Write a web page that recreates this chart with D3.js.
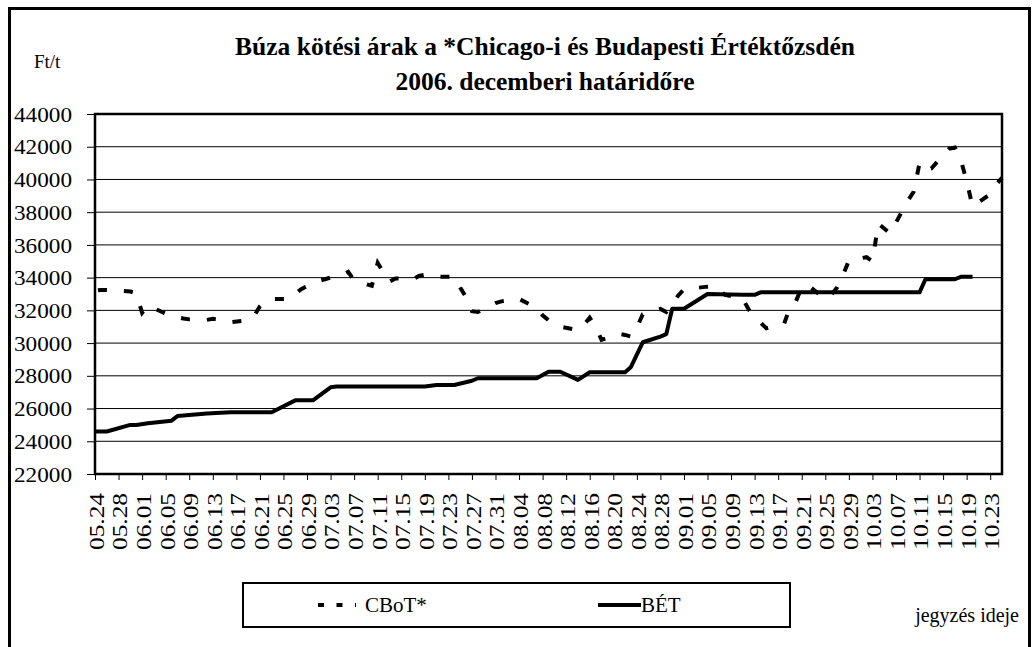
<!DOCTYPE html>
<html>
<head>
<meta charset="utf-8">
<script src="https://cdn.jsdelivr.net/npm/d3@7"></script>
<style>
  body { margin: 0; background: #fff; }
</style>
</head>
<body>
<div id="chart"></div>
<script>
// CBoT* (dashed) – Ft/t
const cbotDates = ["05.24","05.25","05.26","05.30","05.31","06.01","06.02","06.05","06.06","06.08","06.09",
  "06.12","06.13","06.14","06.15","06.16","06.19","06.20","06.21","06.22","06.23","06.26","06.27","06.28",
  "06.29","06.30","07.03","07.05","07.06","07.07","07.10","07.11","07.12","07.13","07.14","07.17","07.18",
  "07.19","07.20","07.21","07.24","07.25","07.26","07.27","07.28","07.31","08.01","08.02","08.03","08.04",
  "08.07","08.08","08.09","08.10","08.11","08.14","08.15","08.16","08.17","08.18","08.21","08.22","08.23",
  "08.24","08.25","08.28","08.29","08.30","08.31","09.01","09.05","09.06","09.07","09.08","09.11","09.12",
  "09.13","09.14","09.15","09.18","09.19","09.20","09.21","09.22","09.25","09.26","09.27","09.28","09.29",
  "10.02","10.03","10.04","10.05","10.06","10.09","10.10","10.11","10.12","10.13","10.16","10.17","10.18",
  "10.19","10.20","10.23","10.24","10.25"];
const cbotValues = [33200,33250,33250,33150,33050,31850,32300,31800,31650,31500,31450,
  31420,31480,31450,31350,31270,31400,31650,32250,32600,32700,32700,33000,33300,
  33480,33700,34000,34150,34350,33830,33500,34900,34300,33750,33950,33900,34100,
  34170,34100,34060,34060,33400,32800,31950,31900,32450,32550,32600,32650,32700,
  32150,31700,31400,31250,31000,30800,31100,31550,31000,30200,30560,30500,30400,
  30950,31750,32090,31900,32350,32900,33280,33450,33480,33200,32950,32700,32050,
  31650,31250,30900,31170,32200,32550,33400,33550,32680,32940,33400,34150,35050,
  35250,35000,37300,37000,36700,38700,39250,41000,40600,40670,41870,41950,41200,
  39900,38350,39100,39700,40100];

// BÉT (solid) – Ft/t
const betDates = ["05.24","05.26","05.30","05.31","06.02","06.06","06.07","06.12","06.16","06.23","06.27",
  "06.30","07.03","07.04","07.19","07.21","07.24","07.27","07.28","08.07","08.09","08.11","08.14","08.16",
  "08.22","08.23","08.25","08.28","08.29","08.30","09.01","09.05","09.11","09.13","09.14","10.11","10.12",
  "10.17","10.18","10.20"];
const betValues = [24600,24600,25000,25000,25100,25260,25540,25700,25770,25770,26500,
  26500,27300,27350,27350,27440,27440,27700,27850,27850,28250,28250,27750,28220,
  28220,28540,30050,30400,30550,32100,32100,33000,32950,32950,33100,33100,33900,
  33900,34050,34050];

const xTickLabels = ["05.24","05.28","06.01","06.05","06.09","06.13","06.17","06.21","06.25","06.29",
  "07.03","07.07","07.11","07.15","07.19","07.23","07.27","07.31","08.04","08.08","08.12","08.16",
  "08.20","08.24","08.28","09.01","09.05","09.09","09.13","09.17","09.21","09.25","09.29","10.03",
  "10.07","10.11","10.15","10.19","10.23"];
const yTicks = [22000,24000,26000,28000,30000,32000,34000,36000,38000,40000,42000,44000];
const xDomain = ["05.24","10.25"];

const seriesNames = ["CBoT*", "BÉT"];
const titleLines = ["Búza kötési árak a *Chicago-i és Budapesti Értéktőzsdén", "2006. decemberi határidőre"];

const FONT = "'Liberation Serif', 'Times New Roman', serif";
const parse = s => d3.utcParse("%Y.%m.%d")("2006." + s);

const W = 1032, H = 647;
const plot = { left: 95, right: 1002, top: 114, bottom: 474 };

const svg = d3.select("#chart").append("svg")
  .attr("width", W).attr("height", H)
  .style("font-family", FONT);

svg.append("rect").attr("width", W).attr("height", H).attr("fill", "#fff");

// outer frame
svg.append("rect")
  .attr("x", 9.5).attr("y", 8.5)
  .attr("width", 1020).attr("height", 700)
  .attr("fill", "none").attr("stroke", "#000").attr("stroke-width", 3);

const x = d3.scaleUtc()
  .domain(xDomain.map(parse))
  .range([plot.left, plot.right]);

const y = d3.scaleLinear()
  .domain([22000, 44000])
  .range([plot.bottom, plot.top]);

// gridlines
svg.append("g")
  .selectAll("line")
  .data(yTicks.slice(1, -1))
  .join("line")
    .attr("x1", plot.left).attr("x2", plot.right)
    .attr("y1", d => y(d)).attr("y2", d => y(d))
    .attr("stroke", "#000").attr("stroke-width", 1);

// y axis
const yAxis = svg.append("g")
  .attr("transform", `translate(${plot.left},0)`)
  .call(d3.axisLeft(y).tickValues(yTicks).tickSize(8).tickPadding(15).tickFormat(d3.format("d")));
yAxis.attr("font-family", null).attr("font-size", null);
yAxis.select(".domain").remove();
yAxis.selectAll(".tick line").attr("stroke", "#000").attr("stroke-width", 1);
yAxis.selectAll(".tick text")
  .style("font-family", FONT)
  .style("font-size", "21px")
  .attr("fill", "#000")
  .attr("dy", "0.34em")
  .attr("textLength", 58)
  .attr("lengthAdjust", "spacingAndGlyphs");

// x axis
const xAxis = svg.append("g")
  .attr("transform", `translate(0,${plot.bottom})`)
  .call(d3.axisBottom(x).tickValues(xTickLabels.map(parse)).tickSize(6).tickFormat(d3.utcFormat("%m.%d")));
xAxis.attr("font-family", null).attr("font-size", null);
xAxis.select(".domain").remove();
xAxis.selectAll(".tick line").attr("stroke", "#000").attr("stroke-width", 1);
xAxis.selectAll(".tick text")
  .style("font-family", FONT)
  .style("font-size", "20px")
  .attr("fill", "#000")
  .attr("text-anchor", "end")
  .attr("transform", "rotate(-90)")
  .attr("x", -19).attr("y", 0).attr("dy", "0.42em")
  .attr("textLength", 57)
  .attr("lengthAdjust", "spacingAndGlyphs");

// plot border
svg.append("rect")
  .attr("x", plot.left).attr("y", plot.top)
  .attr("width", plot.right - plot.left).attr("height", plot.bottom - plot.top)
  .attr("fill", "none").attr("stroke", "#000").attr("stroke-width", 2.5);

const line = d3.line().x(d => x(d.date)).y(d => y(d.value));

const cbot = cbotDates.map((d, i) => ({ date: parse(d), value: cbotValues[i] }));
const bet = betDates.map((d, i) => ({ date: parse(d), value: betValues[i] }));

svg.append("path")
  .datum(bet)
  .attr("fill", "none").attr("stroke", "#000")
  .attr("stroke-width", 4).attr("stroke-linejoin", "round")
  .attr("d", line);

svg.append("path")
  .datum(cbot)
  .attr("fill", "none").attr("stroke", "#000")
  .attr("stroke-width", 4).attr("stroke-dasharray", "9,17").attr("stroke-dashoffset", -3)
  .attr("d", line);

// titles
svg.append("text")
  .attr("x", 545).attr("y", 55)
  .attr("text-anchor", "middle")
  .style("font-size", "25.5px").style("font-weight", "bold")
  .text(titleLines[0]);
svg.append("text")
  .attr("x", 545).attr("y", 90)
  .attr("text-anchor", "middle")
  .style("font-size", "25.5px").style("font-weight", "bold")
  .text(titleLines[1]);

svg.append("text")
  .attr("x", 34).attr("y", 68)
  .style("font-size", "19px")
  .text("Ft/t");

svg.append("text")
  .attr("x", 1019).attr("y", 622)
  .attr("text-anchor", "end")
  .style("font-size", "20px")
  .text("jegyzés ideje");

// legend
const legend = svg.append("g");
legend.append("rect")
  .attr("x", 243).attr("y", 583)
  .attr("width", 547).attr("height", 44)
  .attr("fill", "none").attr("stroke", "#000").attr("stroke-width", 2);

legend.append("line")
  .attr("x1", 318).attr("x2", 356).attr("y1", 605).attr("y2", 605)
  .attr("stroke", "#000").attr("stroke-width", 4).attr("stroke-dasharray", "6,12.5");
legend.append("text")
  .attr("x", 365).attr("y", 612)
  .style("font-size", "21px")
  .text(seriesNames[0]);

legend.append("line")
  .attr("x1", 598).attr("x2", 641).attr("y1", 605).attr("y2", 605)
  .attr("stroke", "#000").attr("stroke-width", 4);
legend.append("text")
  .attr("x", 641).attr("y", 612)
  .style("font-size", "21px")
  .text(seriesNames[1]);
</script>
</body>
</html>
